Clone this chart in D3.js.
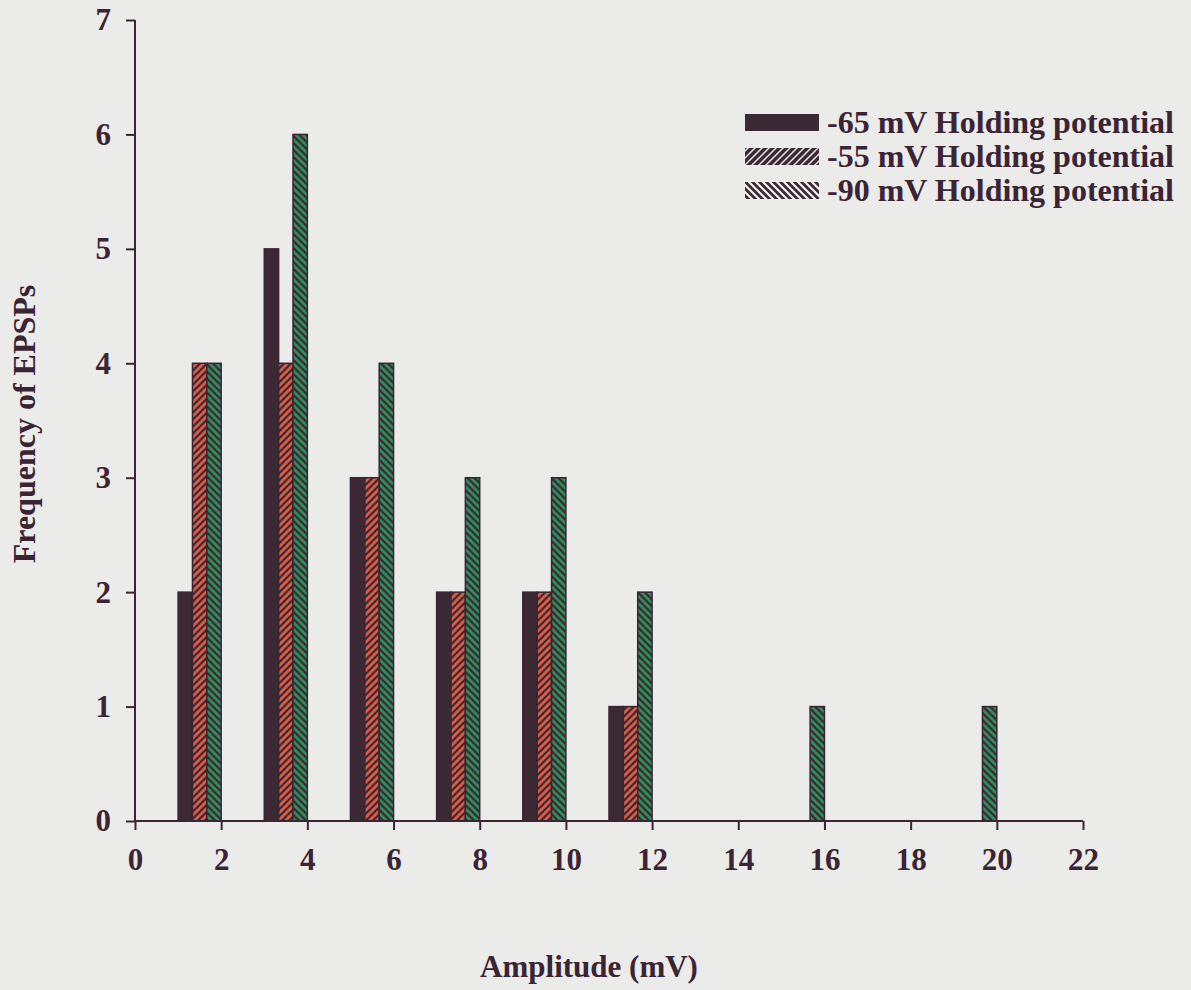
<!DOCTYPE html>
<html>
<head>
<meta charset="utf-8">
<script src="https://cdn.jsdelivr.net/npm/d3@7"></script>
<style>
  html, body { margin: 0; padding: 0; background: #ebebea; }
  svg { display: block; }
  text { font-family: "Liberation Serif", "Times New Roman", serif; font-weight: bold; fill: #3b2433; }
</style>
</head>
<body>
<svg id="chart" width="1191" height="990"></svg>
<script>
// Amplitude bins (right edge of each 2 mV bin, in mV)
const binEdges = [2, 4, 6, 8, 10, 12, 14, 16, 18, 20];
// Number of EPSPs per bin at each holding potential
const series65 = [2, 5, 3, 2, 2, 1, 0, 0, 0, 0];
const series55 = [4, 4, 3, 2, 2, 1, 0, 0, 0, 0];
const series90 = [4, 6, 4, 3, 3, 2, 0, 1, 0, 1];
const seriesNames = ["-65 mV Holding potential", "-55 mV Holding potential", "-90 mV Holding potential"];
const xTicks = [0, 2, 4, 6, 8, 10, 12, 14, 16, 18, 20, 22];
const yTicks = [0, 1, 2, 3, 4, 5, 6, 7];

const ink = "#3b2433";
const svg = d3.select("#chart");

const x = d3.scaleLinear().domain([0, 22]).range([135, 1083]);
const y = d3.scaleLinear().domain([0, 7]).range([821, 20]);

// Hatch patterns for the bars and the legend swatches
const defs = svg.append("defs");
function hatch(id, bg, fg, dir, w) {
  const p = defs.append("pattern")
    .attr("id", id).attr("patternUnits", "userSpaceOnUse")
    .attr("width", 7).attr("height", 7);
  p.append("rect").attr("width", 7).attr("height", 7).attr("fill", bg);
  const d = dir > 0
    ? "M-1,1 l2,-2 M0,7 l7,-7 M6,8 l2,-2"
    : "M-1,6 l2,2 M0,0 l7,7 M6,-1 l2,2";
  p.append("path").attr("d", d).attr("stroke", fg).attr("stroke-width", w);
}
hatch("h55", "#3b2a33", "#d95c43", 1, 2.8);
hatch("h90", "#3b2a33", "#2f8c5d", -1, 2.8);
hatch("l55", "#3b2a33", "#f2f0ee", 1, 1.4);
hatch("l90", "#3b2a33", "#f2f0ee", -1, 2.2);

const fills = ["#3b2a33", "url(#h55)", "url(#h90)"];
const legendFills = ["#3b2a33", "url(#l55)", "url(#l90)"];
const allSeries = [series65, series55, series90];

// Bars: three sub-bars share each bin, ending at the bin's right edge
const sub = d3.scaleBand().domain([0, 1, 2]).range([0, 1]).padding(0);
allSeries.forEach((vals, si) => {
  svg.append("g").selectAll("rect")
    .data(binEdges.map((e, i) => ({ e, v: vals[i] })).filter(d => d.v > 0))
    .join("rect")
    .attr("x", d => x(d.e - 1 + sub(si)))
    .attr("width", d => x(d.e - 1 + sub(si) + sub.bandwidth()) - x(d.e - 1 + sub(si)))
    .attr("y", d => y(d.v))
    .attr("height", d => y(0) - y(d.v))
    .attr("fill", fills[si])
    .attr("stroke", ink)
    .attr("stroke-width", 1.5);
});

// Axes
const xAxis = d3.axisBottom(x).tickValues(xTicks).tickFormat(d3.format("d"))
  .tickSize(9).tickPadding(18);
const gx = svg.append("g").attr("transform", `translate(0,${y(0)})`).call(xAxis);
gx.select(".domain").attr("d", `M${x(0)},0H${x(22)}`).attr("stroke", ink).attr("stroke-width", 2);
gx.selectAll(".tick line").attr("stroke", ink).attr("stroke-width", 2);
gx.selectAll(".tick text").attr("dy", "0.71em");

const yAxis = d3.axisLeft(y).tickValues(yTicks).tickFormat(d3.format("d"))
  .tickSize(9).tickPadding(15);
const gy = svg.append("g").attr("transform", `translate(${x(0)},0)`).call(yAxis);
gy.select(".domain").attr("d", `M0,${y(0)}V${y(7)}`).attr("stroke", ink).attr("stroke-width", 2);
gy.selectAll(".tick line").attr("stroke", ink).attr("stroke-width", 2);

svg.selectAll(".tick text")
  .attr("font-size", null).attr("font-family", null)
  .attr("fill", ink).style("font-size", "31px");

// Axis titles
svg.append("text")
  .attr("x", 589).attr("y", 977)
  .attr("text-anchor", "middle")
  .style("font-size", "31px")
  .text("Amplitude (mV)");

svg.append("text")
  .attr("transform", "translate(35,424) rotate(-90)")
  .attr("text-anchor", "middle")
  .style("font-size", "32px")
  .text("Frequency of EPSPs");

// Legend
const lg = svg.append("g");
seriesNames.forEach((name, i) => {
  const yy = 114 + i * 34;
  lg.append("rect").attr("x", 745).attr("y", yy).attr("width", 74).attr("height", 17)
    .attr("fill", legendFills[i]);
  lg.append("text").attr("x", 827).attr("y", yy + 19)
    .style("font-size", "32px").text(name);
});
</script>
</body>
</html>
